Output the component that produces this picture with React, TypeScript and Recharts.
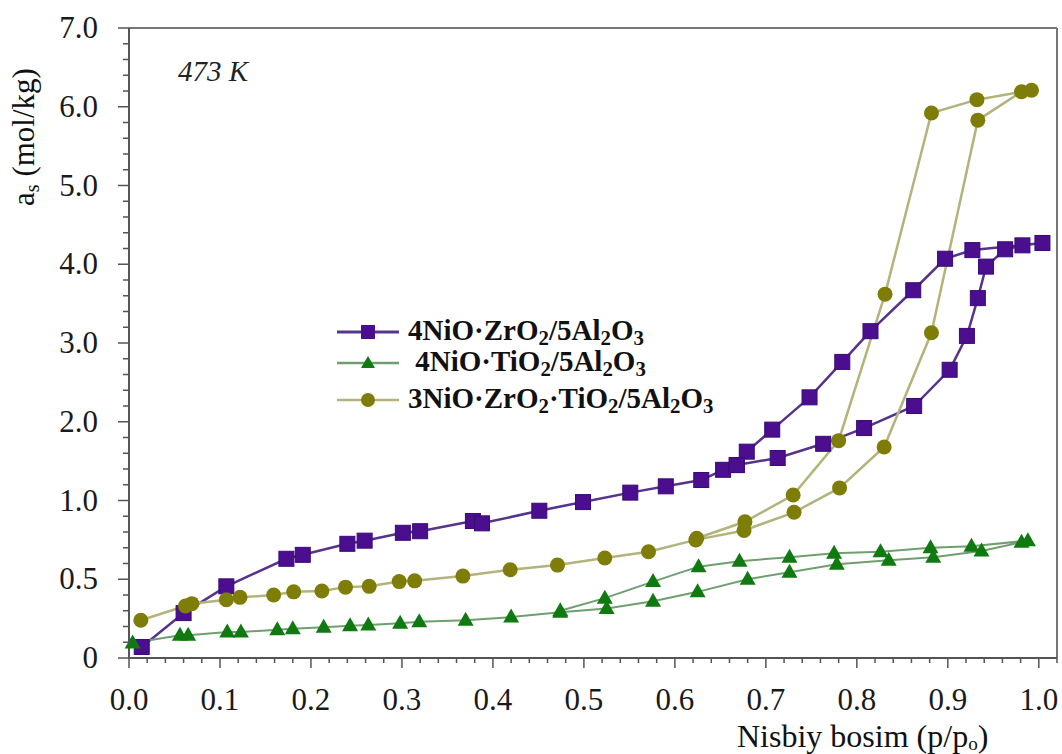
import React from "react";
import { LineChart, Line, XAxis, YAxis, ReferenceLine } from "recharts";

const xTickLabels = ["0.0", "0.1", "0.2", "0.3", "0.4", "0.5", "0.6", "0.7", "0.8", "0.9", "1.0"];
// the original axis labels are not evenly spaced in value (0, 0.5, 1.0, 2.0 ...),
// so y values below are given in axis-position units 0..8
const yTickLabels = ["0", "0.5", "1.0", "2.0", "3.0", "4.0", "5.0", "6.0", "7.0"];
const seriesNames = ["4NiO·ZrO2/5Al2O3", " 4NiO·TiO2/5Al2O3", "3NiO·ZrO2·TiO2/5Al2O3"];

// 4NiO·ZrO2/5Al2O3
const zrAdsX = [0.014, 0.06, 0.107, 0.173, 0.191, 0.24, 0.259, 0.301, 0.32, 0.378, 0.388, 0.451, 0.499, 0.551, 0.59, 0.629, 0.653, 0.668, 0.713, 0.763, 0.808, 0.863, 0.902, 0.921, 0.933, 0.942, 0.963, 0.982, 1.004];
const zrAdsY = [0.14, 0.57, 0.91, 1.26, 1.31, 1.45, 1.49, 1.59, 1.61, 1.74, 1.71, 1.87, 1.98, 2.1, 2.18, 2.26, 2.39, 2.45, 2.54, 2.72, 2.92, 3.2, 3.66, 4.09, 4.57, 4.97, 5.19, 5.24, 5.27];
const zrDesX = [0.927, 0.897, 0.862, 0.815, 0.784, 0.748, 0.707, 0.679, 0.668];
const zrDesY = [5.18, 5.07, 4.67, 4.15, 3.76, 3.31, 2.9, 2.62, 2.45];

// 4NiO·TiO2/5Al2O3
const tiAdsX = [0.004, 0.056, 0.065, 0.108, 0.123, 0.163, 0.18, 0.214, 0.243, 0.263, 0.298, 0.319, 0.37, 0.42, 0.474, 0.525, 0.576, 0.625, 0.68, 0.726, 0.778, 0.835, 0.884, 0.937, 0.981, 0.988];
const tiAdsY = [0.19, 0.29, 0.29, 0.33, 0.33, 0.36, 0.37, 0.39, 0.41, 0.42, 0.44, 0.46, 0.48, 0.52, 0.58, 0.63, 0.72, 0.84, 1.0, 1.09, 1.19, 1.24, 1.28, 1.36, 1.47, 1.49];
const tiDesX = [0.926, 0.881, 0.826, 0.775, 0.726, 0.671, 0.626, 0.576, 0.523, 0.474];
const tiDesY = [1.42, 1.4, 1.35, 1.33, 1.28, 1.23, 1.16, 0.97, 0.76, 0.6];

// 3NiO·ZrO2·TiO2/5Al2O3
const mixAdsX = [0.013, 0.062, 0.069, 0.107, 0.122, 0.159, 0.181, 0.212, 0.238, 0.264, 0.297, 0.314, 0.367, 0.419, 0.471, 0.523, 0.571, 0.623, 0.676, 0.731, 0.781, 0.83, 0.882, 0.933, 0.981, 0.992];
const mixAdsY = [0.48, 0.66, 0.69, 0.74, 0.77, 0.8, 0.84, 0.85, 0.9, 0.91, 0.97, 0.98, 1.04, 1.12, 1.18, 1.27, 1.35, 1.5, 1.62, 1.85, 2.16, 2.68, 4.13, 6.83, 7.19, 7.21];
const mixDesX = [0.932, 0.882, 0.831, 0.78, 0.73, 0.677, 0.624];
const mixDesY = [7.09, 6.92, 4.62, 2.76, 2.07, 1.73, 1.52];

const zip = (xs: number[], ys: number[]) => xs.map((x, i) => ({ x, y: ys[i] }));
const zrData = [...zip(zrAdsX, zrAdsY), ...zip(zrDesX, zrDesY)];
const tiData = [...zip(tiAdsX, tiAdsY), ...zip(tiDesX, tiDesY)];
const mixData = [...zip(mixAdsX, mixAdsY), ...zip(mixDesX, mixDesY)];

const xTicks = Array.from({ length: 52 }, (_, i) => +(i * 0.02).toFixed(2));
const yTicks = Array.from({ length: 41 }, (_, i) => +(i * 0.2).toFixed(1));

const FONT = "'Liberation Serif', 'Times New Roman', serif";
const AXIS = "#555";
const ZR = "#4a0e8f";
const ZR_LINE = "#56348c";
const TI = "#107a10";
const TI_LINE = "#6f9f6f";
const MIX = "#7d7d08";
const MIX_LINE = "#b3b37c";

function XTick({ x, y, payload }: any) {
  const k = Math.round(payload.value / 0.02);
  const major = k % 5 === 0;
  return (
    <g>
      <line x1={x} y1={y} x2={x} y2={y + (major ? 10 : 5)} stroke={AXIS} strokeWidth={1.5} />
      {major && (
        <text x={x} y={y + 52} textAnchor="middle" fontSize={31} fill="#1a1a1a" fontFamily={FONT}>
          {xTickLabels[k / 5]}
        </text>
      )}
    </g>
  );
}

function YTick({ x, y, payload }: any) {
  const k = Math.round(payload.value / 0.2);
  const major = k % 5 === 0;
  return (
    <g>
      <line x1={x - (major ? 11 : 6)} y1={y} x2={x} y2={y} stroke={AXIS} strokeWidth={1.5} />
      {major && (
        <text x={x - 31} y={y + 10} textAnchor="end" fontSize={31} fill="#1a1a1a" fontFamily={FONT}>
          {yTickLabels[k / 5]}
        </text>
      )}
    </g>
  );
}

const squareDot = (p: any) => (
  <rect key={p.index} x={p.cx - 7.5} y={p.cy - 7.5} width={15} height={15} fill={ZR} stroke="#3a0a78" strokeWidth={1} />
);
const triangleDot = (p: any) => (
  <path key={p.index} d={`M${p.cx},${p.cy - 8.5} L${p.cx + 8},${p.cy + 5.5} L${p.cx - 8},${p.cy + 5.5} Z`} fill={TI} />
);
const circleDot = (p: any) => <circle key={p.index} cx={p.cx} cy={p.cy} r={7.5} fill={MIX} />;

// digits right after a letter are chemical subscripts
function Formula({ text }: { text: string }) {
  const parts = text.split(/(?<=[A-Za-z])(\d)/);
  return (
    <>
      {parts.map((s, i) =>
        i % 2 === 1 ? (
          <sub key={i} style={{ fontSize: "0.72em", verticalAlign: "-0.22em" }}>{s}</sub>
        ) : (
          <span key={i}>{s}</span>
        )
      )}
    </>
  );
}

const legendRows = [
  { top: 332, line: ZR_LINE, marker: "square" },
  { top: 363, line: TI_LINE, marker: "triangle" },
  { top: 400, line: MIX_LINE, marker: "circle" },
];

function LegendMarker({ kind, line }: { kind: string; line: string }) {
  return (
    <svg width={64} height={20} style={{ position: "absolute", left: 0, top: -10 }}>
      <line x1={0} y1={10} x2={62} y2={10} stroke={line} strokeWidth={kind === "square" ? 3 : 2.5} />
      {kind === "square" && <rect x={24} y={3} width={14} height={14} fill={ZR} />}
      {kind === "triangle" && <path d="M31,3 L38,15 L24,15 Z" fill={TI} />}
      {kind === "circle" && <circle cx={31} cy={10} r={7} fill={MIX} />}
    </svg>
  );
}

export default function App() {
  return (
    <div
      style={{
        position: "absolute",
        left: 0,
        top: 0,
        width: 1062,
        height: 754,
        background: "#fff",
        fontFamily: FONT,
        color: "#111",
        overflow: "hidden",
      }}
    >
      <LineChart width={1062} height={754} margin={{ top: 28, right: 5, bottom: 0, left: 0 }}>
        <XAxis
          dataKey="x"
          type="number"
          domain={[0, 1.02]}
          ticks={xTicks}
          interval={0}
          height={96}
          tickSize={0}
          tickMargin={0}
          tickLine={false}
          tick={<XTick />}
          axisLine={{ stroke: AXIS, strokeWidth: 2 }}
        />
        <YAxis
          type="number"
          domain={[0, 8]}
          ticks={yTicks}
          interval={0}
          width={129}
          tickSize={0}
          tickMargin={0}
          tickLine={false}
          tick={<YTick />}
          axisLine={{ stroke: AXIS, strokeWidth: 2 }}
        />
        <ReferenceLine y={8} stroke="#777" strokeWidth={2} />
        <ReferenceLine x={1.02} stroke="#777" strokeWidth={2} />
        <Line data={zrData} dataKey="y" type="linear" stroke={ZR_LINE} strokeWidth={2.5} dot={squareDot} isAnimationActive={false} name={seriesNames[0]} />
        <Line data={tiData} dataKey="y" type="linear" stroke={TI_LINE} strokeWidth={2} dot={triangleDot} isAnimationActive={false} name={seriesNames[1]} />
        <Line data={mixData} dataKey="y" type="linear" stroke={MIX_LINE} strokeWidth={2.5} dot={circleDot} isAnimationActive={false} name={seriesNames[2]} />
      </LineChart>

      <div style={{ position: "absolute", left: 178, top: 55, fontSize: 29, fontStyle: "italic", color: "#222" }}>473 K</div>

      {legendRows.map((r, i) => (
        <div key={i} style={{ position: "absolute", left: 337, top: r.top, height: 0 }}>
          <LegendMarker kind={r.marker} line={r.line} />
          <div
            style={{
              position: "absolute",
              left: 71,
              top: -19,
              whiteSpace: "pre",
              fontSize: 29,
              fontWeight: "bold",
              lineHeight: "34px",
            }}
          >
            <Formula text={seriesNames[i]} />
          </div>
        </div>
      ))}

      <div
        style={{
          position: "absolute",
          left: 28,
          top: 137,
          transform: "translate(-50%, -50%) rotate(-90deg)",
          whiteSpace: "nowrap",
          fontSize: 31,
          lineHeight: "36px",
        }}
      >
        a<sub style={{ fontSize: "0.65em", verticalAlign: "-0.2em" }}>s</sub> (mol/kg)
      </div>
      <div style={{ position: "absolute", left: 737, top: 720, whiteSpace: "nowrap", fontSize: 32, lineHeight: "32px" }}>
        Nisbiy bosim (p/p<sub style={{ fontSize: "0.6em", verticalAlign: "-0.15em", lineHeight: 0 }}>o</sub>)
      </div>
    </div>
  );
}
